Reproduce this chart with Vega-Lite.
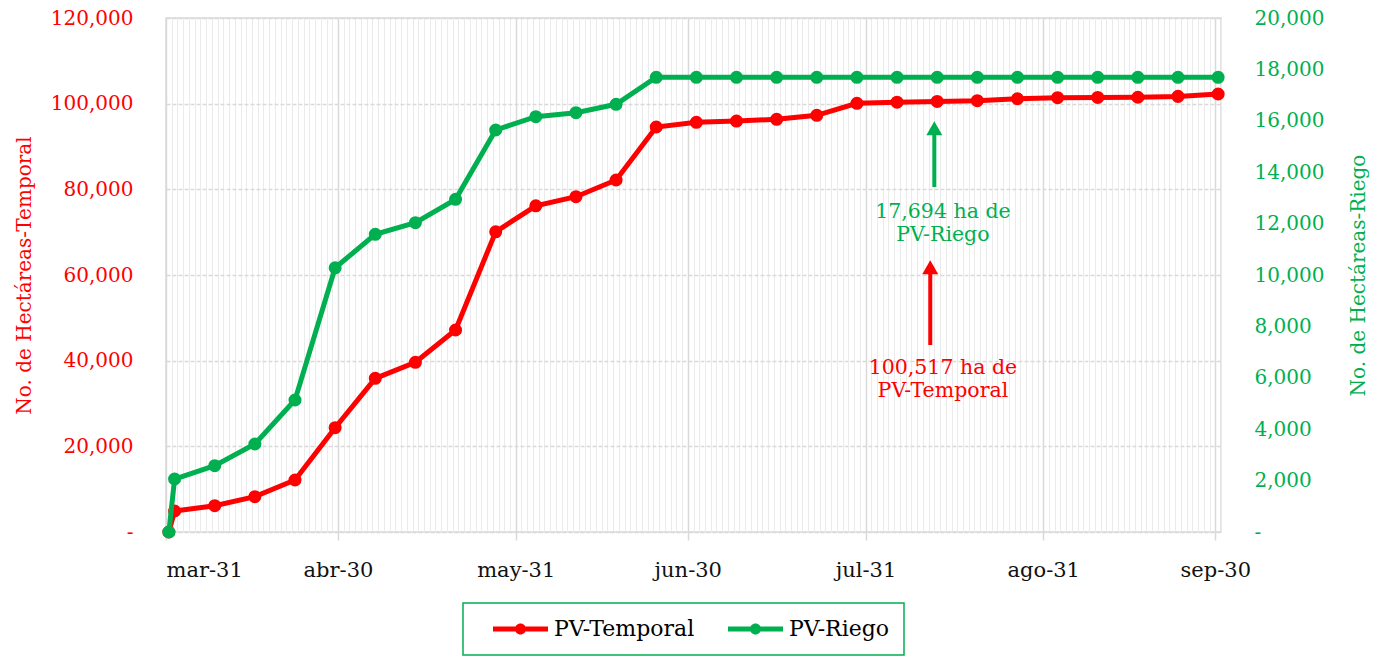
{
  "$schema": "https://vega.github.io/schema/vega-lite/v6.json",
  "width": 1055,
  "height": 514,
  "autosize": "none",
  "padding": {"left": 166, "top": 18, "right": 160, "bottom": 124},
  "config": {
    "font": "DejaVu Serif",
    "view": {"stroke": "#D9D9D9", "strokeWidth": 1.5},
    "axis": {"labelFont": "DejaVu Serif", "titleFont": "DejaVu Serif"},
    "legend": {"labelFont": "DejaVu Serif"}
  },
  "datasets": {
    "series": [
      {"fecha": "2020-03-31T12:00", "serie": "PV-Temporal", "ha": 0},
      {"fecha": "2020-04-01T12:00", "serie": "PV-Temporal", "ha": 4900},
      {"fecha": "2020-04-08T12:00", "serie": "PV-Temporal", "ha": 6140},
      {"fecha": "2020-04-15T12:00", "serie": "PV-Temporal", "ha": 8240},
      {"fecha": "2020-04-22T12:00", "serie": "PV-Temporal", "ha": 12140},
      {"fecha": "2020-04-29T12:00", "serie": "PV-Temporal", "ha": 24350},
      {"fecha": "2020-05-06T12:00", "serie": "PV-Temporal", "ha": 35880},
      {"fecha": "2020-05-13T12:00", "serie": "PV-Temporal", "ha": 39620},
      {"fecha": "2020-05-20T12:00", "serie": "PV-Temporal", "ha": 47160},
      {"fecha": "2020-05-27T12:00", "serie": "PV-Temporal", "ha": 70080},
      {"fecha": "2020-06-03T12:00", "serie": "PV-Temporal", "ha": 76150},
      {"fecha": "2020-06-10T12:00", "serie": "PV-Temporal", "ha": 78280},
      {"fecha": "2020-06-17T12:00", "serie": "PV-Temporal", "ha": 82180},
      {"fecha": "2020-06-24T12:00", "serie": "PV-Temporal", "ha": 94550},
      {"fecha": "2020-07-01T12:00", "serie": "PV-Temporal", "ha": 95640},
      {"fecha": "2020-07-08T12:00", "serie": "PV-Temporal", "ha": 95950},
      {"fecha": "2020-07-15T12:00", "serie": "PV-Temporal", "ha": 96340},
      {"fecha": "2020-07-22T12:00", "serie": "PV-Temporal", "ha": 97280},
      {"fecha": "2020-07-29T12:00", "serie": "PV-Temporal", "ha": 100080},
      {"fecha": "2020-08-05T12:00", "serie": "PV-Temporal", "ha": 100350},
      {"fecha": "2020-08-12T12:00", "serie": "PV-Temporal", "ha": 100517},
      {"fecha": "2020-08-19T12:00", "serie": "PV-Temporal", "ha": 100700},
      {"fecha": "2020-08-26T12:00", "serie": "PV-Temporal", "ha": 101150},
      {"fecha": "2020-09-02T12:00", "serie": "PV-Temporal", "ha": 101400},
      {"fecha": "2020-09-09T12:00", "serie": "PV-Temporal", "ha": 101450},
      {"fecha": "2020-09-16T12:00", "serie": "PV-Temporal", "ha": 101500},
      {"fecha": "2020-09-23T12:00", "serie": "PV-Temporal", "ha": 101700},
      {"fecha": "2020-09-30T12:00", "serie": "PV-Temporal", "ha": 102260},
      {"fecha": "2020-03-31T12:00", "serie": "PV-Riego", "ha": 0},
      {"fecha": "2020-04-01T12:00", "serie": "PV-Riego", "ha": 2062},
      {"fecha": "2020-04-08T12:00", "serie": "PV-Riego", "ha": 2580},
      {"fecha": "2020-04-15T12:00", "serie": "PV-Riego", "ha": 3424},
      {"fecha": "2020-04-22T12:00", "serie": "PV-Riego", "ha": 5136},
      {"fecha": "2020-04-29T12:00", "serie": "PV-Riego", "ha": 10280},
      {"fecha": "2020-05-06T12:00", "serie": "PV-Riego", "ha": 11583},
      {"fecha": "2020-05-13T12:00", "serie": "PV-Riego", "ha": 12035},
      {"fecha": "2020-05-20T12:00", "serie": "PV-Riego", "ha": 12945},
      {"fecha": "2020-05-27T12:00", "serie": "PV-Riego", "ha": 15642},
      {"fecha": "2020-06-03T12:00", "serie": "PV-Riego", "ha": 16160},
      {"fecha": "2020-06-10T12:00", "serie": "PV-Riego", "ha": 16316},
      {"fecha": "2020-06-17T12:00", "serie": "PV-Riego", "ha": 16642},
      {"fecha": "2020-06-24T12:00", "serie": "PV-Riego", "ha": 17694},
      {"fecha": "2020-07-01T12:00", "serie": "PV-Riego", "ha": 17694},
      {"fecha": "2020-07-08T12:00", "serie": "PV-Riego", "ha": 17694},
      {"fecha": "2020-07-15T12:00", "serie": "PV-Riego", "ha": 17694},
      {"fecha": "2020-07-22T12:00", "serie": "PV-Riego", "ha": 17694},
      {"fecha": "2020-07-29T12:00", "serie": "PV-Riego", "ha": 17694},
      {"fecha": "2020-08-05T12:00", "serie": "PV-Riego", "ha": 17694},
      {"fecha": "2020-08-12T12:00", "serie": "PV-Riego", "ha": 17694},
      {"fecha": "2020-08-19T12:00", "serie": "PV-Riego", "ha": 17694},
      {"fecha": "2020-08-26T12:00", "serie": "PV-Riego", "ha": 17694},
      {"fecha": "2020-09-02T12:00", "serie": "PV-Riego", "ha": 17694},
      {"fecha": "2020-09-09T12:00", "serie": "PV-Riego", "ha": 17694},
      {"fecha": "2020-09-16T12:00", "serie": "PV-Riego", "ha": 17694},
      {"fecha": "2020-09-23T12:00", "serie": "PV-Riego", "ha": 17694},
      {"fecha": "2020-09-30T12:00", "serie": "PV-Riego", "ha": 17694}
    ],
    "flechas": [
      {"fecha": "2020-08-12T00:00", "serie": "PV-Riego", "ha": 80544, "hasta": 93720, "punta": 94271},
      {"fecha": "2020-08-11T07:00", "serie": "PV-Temporal", "ha": 43657, "hasta": 61167, "punta": 61820}
    ],
    "notas": [
      {"fecha": "2020-08-13T12:00", "serie": "PV-Riego", "ha": 74707, "texto": "17,694 ha de\nPV-Riego"},
      {"fecha": "2020-08-13T12:00", "serie": "PV-Temporal", "ha": 38287, "texto": "100,517 ha de\nPV-Temporal"}
    ]
  },
  "layer": [
    {
      "layer": [
        {
          "data": {"name": "series"},
          "transform": [{"filter": "datum.serie == 'PV-Temporal'"}],
          "mark": {"type": "line", "strokeWidth": 5, "point": {"filled": true, "size": 170, "opacity": 1}},
          "encoding": {
            "x": {
              "field": "fecha", "type": "temporal",
              "scale": {"domain": [{"year": 2020, "month": 3, "date": 31}, {"year": 2020, "month": 10, "date": 1}]},
              "axis": {"orient": "top", "tickCount": {"interval": "day", "step": 1}, "grid": true, "gridColor": "#EBEBEB", "gridWidth": 1, "labels": false, "ticks": false, "domain": false, "title": null}
            },
            "y": {
              "field": "ha", "type": "quantitative",
              "scale": {"domain": [0, 120000], "nice": false},
              "axis": {
                "orient": "left",
                "values": [0, 20000, 40000, 60000, 80000, 100000, 120000],
                "labelExpr": "datum.value == 0 ? '-' : format(datum.value, ',')",
                "labelColor": "#FF0000", "labelFontSize": 20, "labelPadding": 33,
                "ticks": false, "tickSize": 0, "domain": false,
                "grid": true, "gridColor": "#D9D9D9", "gridDash": [4, 2], "gridWidth": 1.3,
                "title": "No. de Hectáreas-Temporal", "titleColor": "#FF0000", "titleFontSize": 20,
                "titleFontWeight": "normal", "titlePadding": 16
              }
            },
            "color": {
              "field": "serie", "type": "nominal",
              "scale": {"domain": ["PV-Temporal", "PV-Riego"], "range": ["#FF0000", "#00B050"]},
              "legend": {
                "orient": "none", "legendX": 297, "legendY": 585,
                "direction": "horizontal", "columns": 2, "title": null,
                "labelFontSize": 22, "labelColor": "#000000", "labelOffset": 6,
                "symbolType": "M-1,-0.09H1V0.09H-1Z M0.2,0A0.2,0.2 0 1,1 -0.2,0A0.2,0.2 0 1,1 0.2,0Z",
                "symbolSize": 3025, "symbolStrokeWidth": 0, "clipHeight": 24, "symbolOffset": 16,
                "columnPadding": 17, "padding": 14, "strokeColor": "#00B050",
                "encode": {
                  "symbols": {"update": {"fill": {"scale": "color", "field": "value"}, "stroke": {"value": "transparent"}, "opacity": {"value": 1}}},
                  "legend": {"update": {"strokeWidth": {"value": 1.5}}}
                }
              }
            }
          }
        },
        {
          "data": {"name": "flechas"},
          "mark": {"type": "rule", "strokeWidth": 4},
          "encoding": {
            "x": {"field": "fecha", "type": "temporal"},
            "y": {"field": "ha", "type": "quantitative"},
            "y2": {"field": "hasta"},
            "color": {"field": "serie", "type": "nominal"}
          }
        },
        {
          "data": {"name": "flechas"},
          "mark": {"type": "point", "shape": "triangle-up", "filled": true, "size": 256, "opacity": 1},
          "encoding": {
            "x": {"field": "fecha", "type": "temporal"},
            "y": {"field": "punta", "type": "quantitative"},
            "color": {"field": "serie", "type": "nominal"}
          }
        },
        {
          "data": {"name": "notas"},
          "mark": {"type": "text", "fontSize": 20.5, "font": "DejaVu Serif", "lineBreak": "\n", "lineHeight": 23, "align": "center", "baseline": "middle"},
          "encoding": {
            "x": {"field": "fecha", "type": "temporal"},
            "y": {"field": "ha", "type": "quantitative"},
            "text": {"field": "texto"},
            "color": {"field": "serie", "type": "nominal"}
          }
        }
      ]
    },
    {
      "data": {"name": "series"},
      "transform": [{"filter": "datum.serie == 'PV-Riego'"}],
      "mark": {"type": "line", "strokeWidth": 5, "point": {"filled": true, "size": 170, "opacity": 1}},
      "encoding": {
        "x": {
          "field": "fecha", "type": "temporal",
          "axis": {
            "orient": "bottom",
            "values": [
              {"year": 2020, "month": 3, "date": 31},
              {"year": 2020, "month": 4, "date": 30},
              {"year": 2020, "month": 5, "date": 31},
              {"year": 2020, "month": 6, "date": 30},
              {"year": 2020, "month": 7, "date": 31},
              {"year": 2020, "month": 8, "date": 31},
              {"year": 2020, "month": 9, "date": 30}
            ],
            "labelExpr": "['ene','feb','mar','abr','may','jun','jul','ago','sep','oct','nov','dic'][month(datum.value)] + '-' + timeFormat(datum.value, '%d')",
            "labelColor": "#111111", "labelFontSize": 21, "labelPadding": 19,
            "ticks": true, "tickSize": 8, "tickColor": "#D9D9D9", "tickWidth": 1.5,
            "grid": true, "gridColor": "#D9D9D9", "gridWidth": 1.5,
            "domain": false, "title": null
          }
        },
        "y": {
          "field": "ha", "type": "quantitative",
          "scale": {"domain": [0, 20000], "nice": false},
          "axis": {
            "orient": "right",
            "values": [0, 2000, 4000, 6000, 8000, 10000, 12000, 14000, 16000, 18000, 20000],
            "labelExpr": "datum.value == 0 ? '-' : format(datum.value, ',')",
            "labelColor": "#00B050", "labelFontSize": 20, "labelPadding": 33,
            "ticks": false, "tickSize": 0, "domain": false, "grid": false,
            "title": "No. de Hectáreas-Riego", "titleColor": "#00B050", "titleFontSize": 20,
            "titleFontWeight": "normal", "titleAngle": 270, "titlePadding": 45
          }
        },
        "color": {"field": "serie", "type": "nominal"}
      }
    }
  ],
  "resolve": {"scale": {"y": "independent"}, "axis": {"x": "independent"}}
}
